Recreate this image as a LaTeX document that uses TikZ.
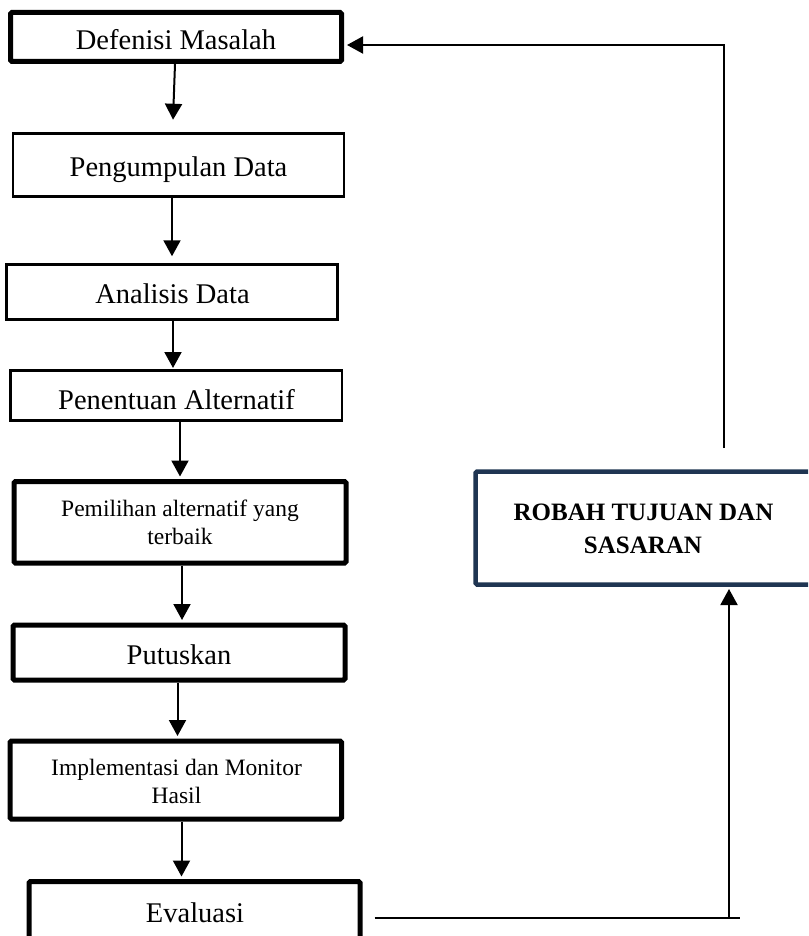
\documentclass[tikz,border=0pt]{standalone}
\usepackage{fontspec}
\setmainfont{Liberation Serif}
\usetikzlibrary{arrows.meta,calc}
\definecolor{navy}{HTML}{1F3552}
\begin{document}
\begin{tikzpicture}[x=1pt,y=-1pt,
  thickbox/.style={draw=black, line width=5pt, rounded corners=1.5pt, inner sep=0pt},
  thinbox/.style={draw=black, line width=2.5pt, inner sep=0pt},
  navybox/.style={draw=navy, line width=4.5pt, rounded corners=1.5pt, inner sep=0pt},
  txt/.style={anchor=base, inner sep=0pt, font=\fontsize{28.5}{34}\selectfont},
  smalltxt/.style={anchor=base, inner sep=0pt, font=\fontsize{23.5}{27}\selectfont},
  boldtxt/.style={anchor=base, inner sep=0pt, font=\fontsize{25}{30}\selectfont\bfseries},
  conn/.style={line width=2pt},
  arr/.style={conn, -{Triangle[width=17pt,length=16pt]}}]
\useasboundingbox (0,0) rectangle (808,936);
\begin{scope}
\clip (0,0) rectangle (808,936);
% boxes
\node[thickbox, minimum width=331pt, minimum height=49pt] (b1) at (176,37) {};
\node[thinbox, minimum width=331pt, minimum height=63pt] (b2) at (178.5,165) {};
\node[thinbox, minimum width=331pt, minimum height=55pt] (b3) at (172,292) {};
\node[thinbox, minimum width=331.5pt, minimum height=50pt] (b4) at (176.25,395.5) {};
\node[thickbox, minimum width=332pt, minimum height=81.5pt] (b5) at (180,522.25) {};
\node[thickbox, minimum width=332pt, minimum height=55pt] (b6) at (179,652.5) {};
\node[thickbox, minimum width=331.5pt, minimum height=78pt] (b7) at (175.75,780) {};
\node[thickbox, minimum width=331pt, minimum height=78.5pt] (b8) at (194.5,920.75) {};
\node[navybox, minimum width=364.5pt, minimum height=113pt] (rb) at (657.75,528) {};
% texts
\node[txt] (l1) at (176,50) {Defenisi Masalah};
\node[txt] (l2) at (178.5,176) {Pengumpulan Data};
\node[txt] (l3) at (172.5,303) {Analisis Data};
\node[txt] (l4) at (176.5,409) {Penentuan Alternatif};
\node[smalltxt] (l5a) at (180,516) {Pemilihan alternatif yang};
\node[smalltxt] (l5b) at (180,544) {terbaik};
\node[txt] (l6) at (179,664) {Putuskan};
\node[smalltxt] (l7a) at (176.5,775) {Implementasi dan Monitor};
\node[smalltxt] (l7b) at (176.5,803) {Hasil};
\node[txt] (l8) at (195,922) {Evaluasi};
\node[boldtxt] (r1) at (643.5,520) {ROBAH TUJUAN DAN};
\node[boldtxt] (r2) at (643,553) {SASARAN};
% main flow arrows
\draw[arr] ([xshift=-1pt]b1.south) -- ([xshift=-5.5pt,yshift=12.5pt]b2.north);
\draw[arr] ([xshift=-6.5pt]b2.south) -- ([yshift=7pt]b3.north);
\draw[arr] ([xshift=1pt]b3.south) -- ([xshift=-3.25pt,yshift=1.25pt]b4.north);
\draw[arr] ([xshift=3.75pt]b4.south) -- ([yshift=2.5pt]b5.north);
\draw[arr] ([xshift=2pt]b5.south) -- ([xshift=3pt,yshift=2.5pt]b6.north);
\draw[arr] ([xshift=-1.5pt]b6.south) -- ([xshift=1.75pt,yshift=2.5pt]b7.north);
\draw[arr] ([xshift=5.75pt]b7.south) -- ([xshift=-13pt,yshift=2.5pt]b8.north);
% feedback loop
\coordinate (e1) at (740,918);
\coordinate (e2) at (729,918);
\coordinate (t1) at (723.5,448);
\draw[conn] ([xshift=12pt,yshift=2.75pt]b8.east) -- (e1);
\draw[arr] (e2) -- ($(rb.south -| e2)+(0,2.25)$);
\draw[arr] (t1) |- ($(b1.east)+(3,8)$);
\end{scope}
\end{tikzpicture}
\end{document}
